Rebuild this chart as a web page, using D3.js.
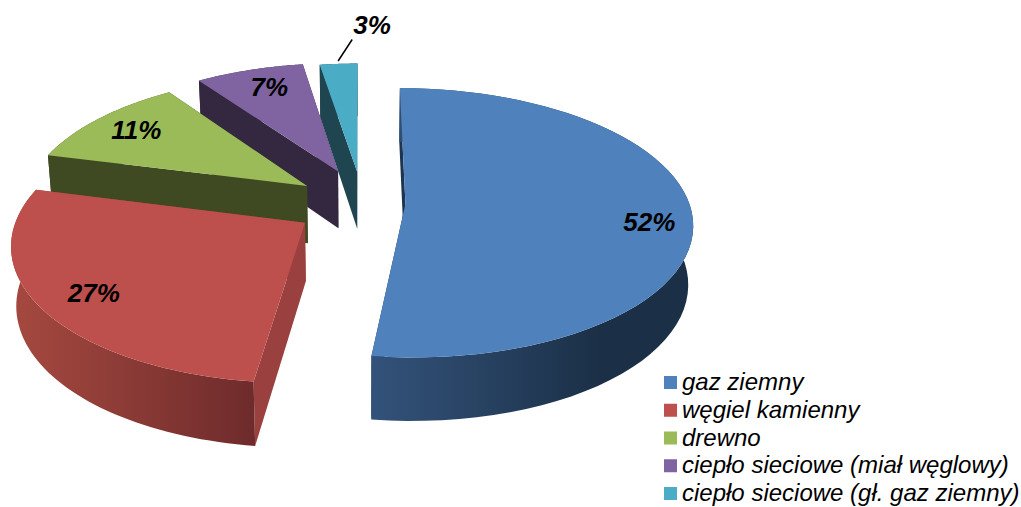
<!DOCTYPE html>
<html>
<head>
<meta charset="utf-8">
<script src="https://cdn.jsdelivr.net/npm/d3@7"></script>
<style>
  html, body { margin: 0; padding: 0; background: #fff; }
  svg { display: block; }
  text { font-family: "Liberation Sans", Arial, sans-serif; font-style: italic; fill: #000; }
</style>
</head>
<body>
<div id="chart"></div>
<script>
// Data. Slice sizes are estimated, the labels show them rounded.
const categories = [ 'gaz ziemny', 'węgiel kamienny', 'drewno', 'ciepło sieciowe (miał węglowy)', 'ciepło sieciowe (gł. gaz ziemny)' ];
const shares = [ 52, 27, 11.3, 7.2, 2.5 ];

// Colours per slice: top face, radial wall, outer wall left and right end of the gradient.
const top_colors = [ '#4f81bd', '#bd4f4c', '#9bbb59', '#8064a2', '#4bacc6' ];
const wall_colors = [ '#1d3550', '#9a403e', '#404a22', '#33283f', '#1e4550' ];
const rim_left = [ '#33527a', '#a4483f', '#404a22', '#33283f', '#1e4550' ];
const rim_right = [ '#1b3047', '#6e2b2b', '#404a22', '#33283f', '#1e4550' ];

// Explosion of each slice in disc units, and where its label sits.
const explode_x = [ 0.16, -0.19, -0.19, -0.08, -0.01 ];
const explode_y = [ 0, -0.14, 0.14, 0.255, 0.25 ];
const label_r = [ 0.85, 0.82, 0.81, 0.81, 1.42 ];
const label_turn = [ 5.5, -1.5, 0.2, 1.4, 7 ];

const width = 1021, height = 507;
const perspective = 0.14;
const thickness = 58;
const bottom_shrink = 0.015;

const x_scale = d3.scaleLinear().domain( [-1, 1] ).range( [360 - 284, 360 + 284] );
const y_scale = d3.scaleLinear().domain( [-1, 1] ).range( [204 + 132, 204 - 132] );

const color = d3.scaleOrdinal().domain( categories ).range( top_colors );

const pie = d3.pie().sort( null ).value( d => d )
const slices = pie( shares );

// Disc coordinates to screen, z is 0 on the top face and 1 on the bottom face.
function project( X, Y, z ){
  const d = 1 + perspective * Y;
  const sx = x_scale( X / d );
  return [
    x_scale( 0 ) + ( sx - x_scale( 0 ) ) * ( 1 - bottom_shrink * z ),
    y_scale( Y / d ) + thickness * z / Math.pow( d, 0.6 )
  ];
}

function rim_point( i, angle, r, z ){
  return project( explode_x[i] + r * Math.sin( angle ), explode_y[i] + r * Math.cos( angle ), z );
}

const line = d3.line();

const svg = d3.select( '#chart' )
  .append( 'svg' )
    .attr( 'width', width )
    .attr( 'height', height );

const defs = svg.append( 'defs' );
slices.forEach( function( s, i ){
  const grad = defs.append( 'linearGradient' )
    .attr( 'id', 'rim' + i )
    .attr( 'gradientUnits', 'userSpaceOnUse' )
    .attr( 'x1', i == 0 ? 374 : 20 ).attr( 'x2', i == 0 ? 600 : 254 )
    .attr( 'y1', 0 ).attr( 'y2', 0 );
  grad.append( 'stop' ).attr( 'offset', 0 ).attr( 'stop-color', rim_left[i] );
  grad.append( 'stop' ).attr( 'offset', 1 ).attr( 'stop-color', rim_right[i] );
} );

// Paint back to front: the small slices first, the big blue one last.
const order = [ 4, 3, 2, 1, 0 ];
order.forEach( function( i ){
  const s = slices[i];
  const g = svg.append( 'g' );
  const arc_angles = d3.range( 0, 61 ).map( k => s.startAngle + ( s.endAngle - s.startAngle ) * k / 60 );

  // Radial walls.
  [ s.startAngle, s.endAngle ].forEach( function( a ){
    g.append( 'path' )
      .attr( 'd', line( [ rim_point( i, a, 0, 0 ), rim_point( i, a, 1, 0 ), rim_point( i, a, 1, 1 ), rim_point( i, a, 0, 1 ) ] ) + 'Z' )
      .attr( 'fill', wall_colors[i] );
  } );

  // Outer curved wall.
  const rim = arc_angles.map( a => rim_point( i, a, 1, 0 ) )
    .concat( arc_angles.slice().reverse().map( a => rim_point( i, a, 1, 1 ) ) );
  g.append( 'path' )
    .attr( 'd', line( rim ) + 'Z' )
    .attr( 'fill', 'url(#rim' + i + ')' );

  // Top face.
  const top = [ rim_point( i, 0, 0, 0 ) ].concat( arc_angles.map( a => rim_point( i, a, 1, 0 ) ) );
  g.append( 'path' )
    .attr( 'd', line( top ) + 'Z' )
    .attr( 'fill', color( categories[i] ) );
} );

// Leader line of the smallest slice.
const small = slices.length - 1;
const small_mid = ( slices[small].startAngle + slices[small].endAngle ) / 2;
const leader_from = rim_point( small, small_mid, 1.03, 0 );
const leader_to = rim_point( small, small_mid + 0.06, 1.26, 0 );
svg.append( 'line' )
  .attr( 'x1', leader_from[0] ).attr( 'y1', leader_from[1] )
  .attr( 'x2', leader_to[0] ).attr( 'y2', leader_to[1] )
  .attr( 'stroke', '#000' )
  .attr( 'stroke-width', 1.5 );

// Percent labels.
svg.selectAll( 'text.pct' )
  .data( slices )
  .enter()
  .append( 'text' )
    .attr( 'class', 'pct' )
    .attr( 'text-anchor', 'middle' )
    .attr( 'dominant-baseline', 'central' )
    .attr( 'font-size', 26 )
    .attr( 'font-weight', 'bold' )
    .attr( 'transform', function( d, i ){
      const a = ( d.startAngle + d.endAngle ) / 2 + label_turn[i] * Math.PI / 180;
      return 'translate(' + rim_point( i, a, label_r[i], 0 ) + ')';
    } )
    .text( d => Math.round( d.data ) + '%' );

// Legend, positioned on the text baselines.
const legend_y = d3.scalePoint().domain( categories ).range( [ 390, 501 ] );
svg.selectAll( 'rect.key' )
  .data( categories )
  .enter()
  .append( 'rect' )
    .attr( 'class', 'key' )
    .attr( 'x', 664 )
    .attr( 'y', d => legend_y( d ) - 14 )
    .attr( 'width', 13 )
    .attr( 'height', 13 )
    .attr( 'fill', d => color( d ) );
svg.selectAll( 'text.key_label' )
  .data( categories )
  .enter()
  .append( 'text' )
    .attr( 'class', 'key_label' )
    .attr( 'x', 682 )
    .attr( 'y', d => legend_y( d ) )
    .attr( 'font-size', 24 )
    .text( d => d );
</script>
</body>
</html>
